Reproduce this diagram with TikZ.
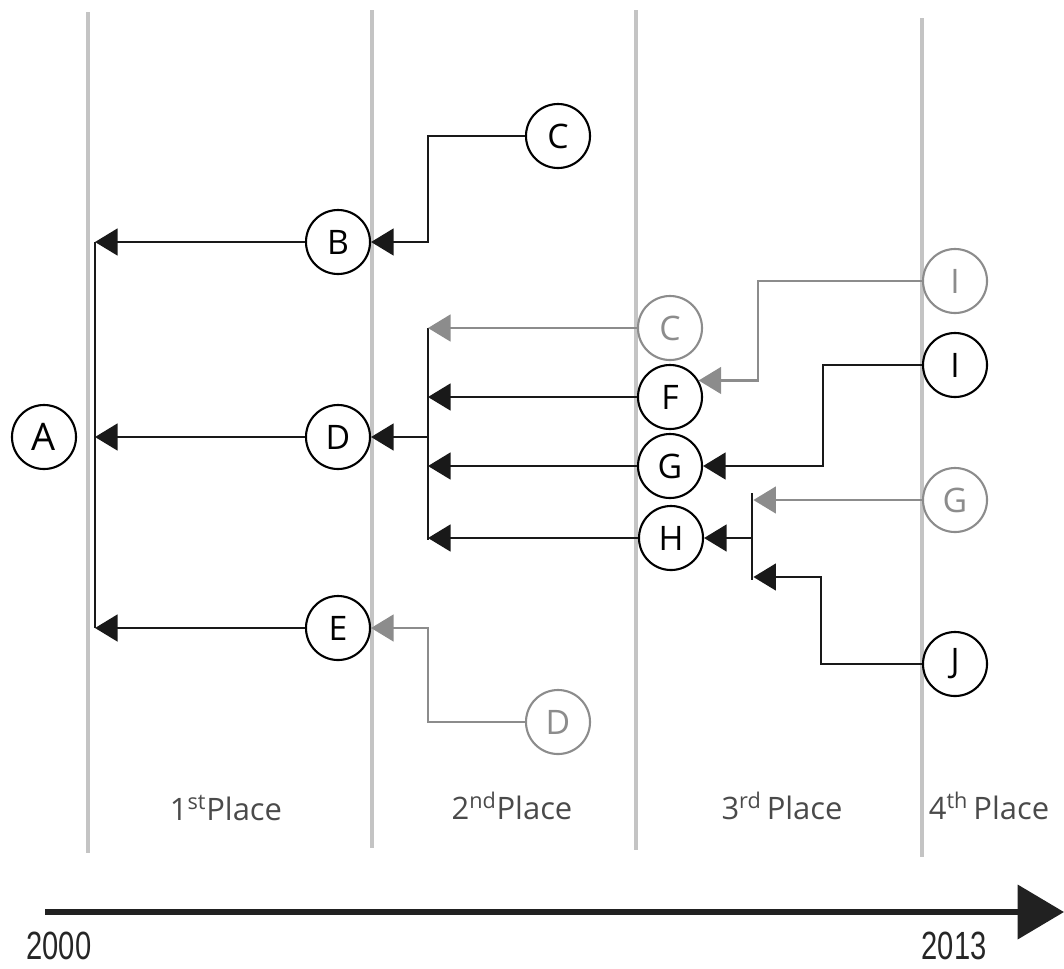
\documentclass[tikz,border=0pt]{standalone}
\usepackage{fontspec}
\setmainfont{Open Sans}
\newfontfamily\yearfont[FakeStretch=0.74]{Liberation Sans}
\usepackage{xcolor}
\usetikzlibrary{arrows.meta,positioning}

\definecolor{ghostgray}{HTML}{8C8C8C}
\definecolor{sepgray}{HTML}{C4C4C4}
\definecolor{labelgray}{HTML}{4A4A4A}

\begin{document}
\begin{tikzpicture}[
    x=0.025cm,y=-0.025cm,
    >={Triangle[length=16pt,width=19pt]},
    place/.style={circle,draw=black,line width=1.5pt,minimum size=1.6cm,inner sep=0pt,font=\fontsize{24}{26}\selectfont},
    ghost/.style={place,draw=ghostgray,text=ghostgray},
    link/.style={->,line width=1.6pt,draw=black!90},
    ghostlink/.style={->,line width=1.6pt,draw=ghostgray},
    bracket/.style={line width=1.6pt,draw=black!90},
    sep/.style={line width=2.8pt,draw=sepgray},
    rank/.style={text=labelgray,font=\fontsize{22}{26}\selectfont},
    year/.style={font=\yearfont\fontsize{28}{30}\selectfont,text=black!85}
  ]
    \useasboundingbox (0,0) rectangle (1064,968);

    % separators
    \draw[sep] (88,12) -- (88,853);
    \draw[sep] (372,10) -- (372,848);
    \draw[sep] (636,10) -- (636,850);
    \draw[sep] (922,18) -- (922,857);

    \node[rank] (first) at (226,808) {1\textsuperscript{st}Place};
    \node[rank] (second) at (512,806) {2\textsuperscript{nd}Place};
    \node[rank] (third) at (782,806) {3\textsuperscript{rd}\,Place};
    \node[rank] (fourth) at (989,806) {4\textsuperscript{th}\,Place};

    \node[place,font=\fontsize{27}{28}\selectfont] (A) at (44,437) {A};
    \node[place] (B) at (338,242) {B};
    \node[place] (C) at (558,136) {C};
    \node[place] (D) at (338,437) {D};
    \node[place] (E) at (338,628) {E};
    \node[ghost] (Cg) at (670,328) {C};
    \node[place] (F) at (670,397) {F};
    \node[place] (G) at (670,466) {G};
    \node[place] (H) at (671,538) {H};
    \node[ghost] (Ig) at (955,281) {I};
    \node[place] (I) at (955,365) {I};
    \node[ghost] (Gg) at (955,500) {G};
    \node[place] (J) at (955,664) {J};
    \node[ghost] (Dg) at (558,722) {D};

    % brackets
    \coordinate (fork1top) at (95,242);
    \coordinate (fork1bot) at (95,628);
    \coordinate (fork2top) at (428,328);
    \coordinate (fork2bot) at (428,540);
    \coordinate (fork2mid) at (428,437);
    \coordinate (fork3top) at (752,493);
    \coordinate (fork3bot) at (752,580);
    \draw[bracket] (fork1top) -- (fork1bot);
    \draw[bracket] (fork2top) -- (fork2bot);
    \draw[bracket] (fork3top) -- (fork3bot);

    \draw[link] (B.west) -- (fork1top |- B.west);
    \draw[link] (D.west) -- (fork1top |- D.west);
    \draw[link] (E.west) -- (fork1top |- E.west);

    \coordinate (cbend) at (428,136);
    \draw[link] (C.west) -- (cbend) |- (B.east);

    \draw[ghostlink] (Cg.west) -- (fork2top |- Cg.west);
    \draw[link] (F.west) -- (fork2top |- F.west);
    \draw[link] (G.west) -- (fork2top |- G.west);
    \draw[link] (H.west) -- (fork2top |- H.west);
    \draw[link] (fork2mid) -- (D.east);

    \coordinate (dbend) at (428,722);
    \draw[ghostlink] (Dg.west) -- (dbend) |- (E.east);

    \coordinate (ibend) at (758,281);
    \draw[ghostlink] (Ig.west) -- (ibend) |- (F.30);

    \coordinate (jbend) at (823,365);
    \draw[link] (I.west) -- (jbend) |- (G.east);

    \draw[ghostlink] (Gg.west) -- ([xshift=1pt]fork3top |- Gg.west);
    \coordinate (kbend) at (821,664);
    \draw[link] (J.west) -- (kbend) |- ([xshift=1pt]fork3bot |- 0,577);
    \draw[link] (fork3top |- H.east) -- (H.east);

    % time axis
    \coordinate (t0) at (45,912);
    \coordinate (t1) at (1064,912);
    \draw[line width=4.3pt,draw=black!87,-{Triangle[length=33pt,width=38pt]}] (t0) -- (t1);
    \node[year] (start) at (59,946) {2000};
    \node[year] (end) at (954,946) {2013};
  \end{tikzpicture}
\end{document}
